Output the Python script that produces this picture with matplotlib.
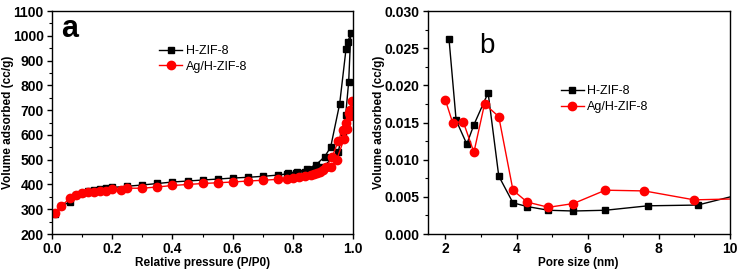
import matplotlib
matplotlib.use("Agg")
import matplotlib.pyplot as plt
from matplotlib.ticker import MultipleLocator, AutoMinorLocator, FormatStrFormatter

plt.rcParams['font.family'] = ['Liberation Sans', 'DejaVu Sans']

# Panel a: N2 isotherms
h_p = [0.01, 0.03, 0.06, 0.08, 0.10, 0.12, 0.14, 0.16, 0.18, 0.20, 0.25, 0.30, 0.35, 0.40,
       0.45, 0.50, 0.55, 0.60, 0.65, 0.70, 0.75, 0.78, 0.81, 0.84, 0.87, 0.90, 0.95, 0.965,
       0.975, 0.985, 0.992, 0.982, 0.976, 0.955, 0.925, 0.905, 0.877, 0.845, 0.815, 0.785]
h_v = [280, 312, 330, 358, 367, 372, 376, 380, 384, 388, 393, 398, 404, 410,
       414, 418, 422, 426, 429, 433, 438, 443, 448, 452, 458, 470, 530, 610,
       680, 815, 1010, 975, 945, 725, 550, 512, 480, 462, 452, 446]
ag_p = [0.01, 0.03, 0.06, 0.08, 0.10, 0.12, 0.14, 0.16, 0.18, 0.20, 0.23, 0.25, 0.30, 0.35,
        0.40, 0.45, 0.50, 0.55, 0.60, 0.65, 0.70, 0.75, 0.78, 0.80, 0.82, 0.84, 0.86, 0.88,
        0.90, 0.925, 0.945, 0.97, 0.98, 0.99, 0.995, 0.99, 0.985, 0.975, 0.965, 0.95, 0.93,
        0.91, 0.89, 0.87]
ag_v = [285, 312, 345, 357, 365, 368, 370, 374, 375, 380, 378, 385, 385, 390,
        396, 400, 404, 407, 410, 414, 417, 421, 424, 428, 430, 434, 438, 445,
        458, 470, 500, 585, 625, 675, 735, 700, 690, 650, 620, 575, 510,
        470, 452, 442]

# Panel b: pore size distribution
h_d = [2.1, 2.3, 2.6, 2.8, 3.2, 3.5, 3.9, 4.3, 4.9, 5.6, 6.5, 7.7, 9.1, 10.6]
h_pv = [0.0262, 0.0153, 0.0121, 0.0147, 0.0190, 0.0078, 0.0042, 0.0037, 0.0032, 0.0031,
        0.0032, 0.0038, 0.0039, 0.0057]
ag_d = [2.0, 2.2, 2.5, 2.8, 3.1, 3.5, 3.9, 4.3, 4.9, 5.6, 6.5, 7.6, 9.0, 10.8]
ag_pv = [0.0180, 0.0150, 0.0151, 0.0110, 0.0175, 0.0158, 0.0059, 0.0043, 0.0036, 0.0041,
         0.0059, 0.0058, 0.0046, 0.0048]

fig = plt.figure(figsize=(7.4, 2.76), dpi=100)
axa = fig.add_axes([0.0703, 0.152, 0.407, 0.808])
axb = fig.add_axes([0.578, 0.152, 0.408, 0.808])

def style(ax):
    for s in ax.spines.values():
        s.set_linewidth(1.0)
    ax.tick_params(which='both', direction='out', top=False, right=False)
    ax.tick_params(which='major', length=3.5, width=1, labelsize=10, pad=2.5)
    ax.tick_params(which='minor', length=2, width=0.8)
    for lab in ax.get_xticklabels() + ax.get_yticklabels():
        lab.set_fontweight('bold')

axa.plot(h_p, h_v, color='black', marker='s', markersize=5, linewidth=1, label='H-ZIF-8')
axa.plot(ag_p, ag_v, color='red', marker='o', markersize=6, linewidth=1, label='Ag/H-ZIF-8')
axa.set_xlim(0, 1.0)
axa.set_ylim(200, 1100)
axa.xaxis.set_major_locator(MultipleLocator(0.2))
axa.xaxis.set_minor_locator(AutoMinorLocator(2))
axa.yaxis.set_major_locator(MultipleLocator(100))
axa.yaxis.set_minor_locator(AutoMinorLocator(2))
axa.set_xlabel('Relative pressure (P/P0)', fontsize=8.5, fontweight='bold')
axa.set_ylabel('Volume adsorbed (cc/g)', fontsize=8.5, fontweight='bold')
axa.yaxis.set_label_coords(-0.125, 0.5)
axa.xaxis.set_label_coords(0.5, -0.105)
style(axa)
axa.text(0.03, 0.985, 'a', transform=axa.transAxes, fontsize=22, fontweight='bold', va='top', ha='left')
axa.legend(loc='upper left', bbox_to_anchor=(0.34, 0.87), frameon=False, fontsize=9,
           handlelength=1.8, handletextpad=0.3, borderaxespad=0, labelspacing=0.3)

axb.plot(h_d, h_pv, color='black', marker='s', markersize=5, linewidth=1, label='H-ZIF-8')
axb.plot(ag_d, ag_pv, color='red', marker='o', markersize=6, linewidth=1, label='Ag/H-ZIF-8')
axb.set_xlim(1.5, 10)
axb.set_ylim(0, 0.030)
axb.xaxis.set_major_locator(MultipleLocator(2))
axb.xaxis.set_minor_locator(AutoMinorLocator(2))
axb.yaxis.set_major_locator(MultipleLocator(0.005))
axb.yaxis.set_minor_locator(AutoMinorLocator(2))
axb.yaxis.set_major_formatter(FormatStrFormatter('%.3f'))
axb.set_xlabel('Pore size (nm)', fontsize=8.5, fontweight='bold')
axb.set_ylabel('Volume adsorbed (cc/g)', fontsize=8.5, fontweight='bold')
axb.yaxis.set_label_coords(-0.142, 0.5)
axb.xaxis.set_label_coords(0.5, -0.105)
style(axb)
axb.text(0.17, 0.9, 'b', transform=axb.transAxes, fontsize=20, va='top', ha='left')
axb.legend(loc='upper left', bbox_to_anchor=(0.425, 0.69), frameon=False, fontsize=9,
           handlelength=1.8, handletextpad=0.3, borderaxespad=0, labelspacing=0.3)

fig.savefig('out.png', dpi=100)
